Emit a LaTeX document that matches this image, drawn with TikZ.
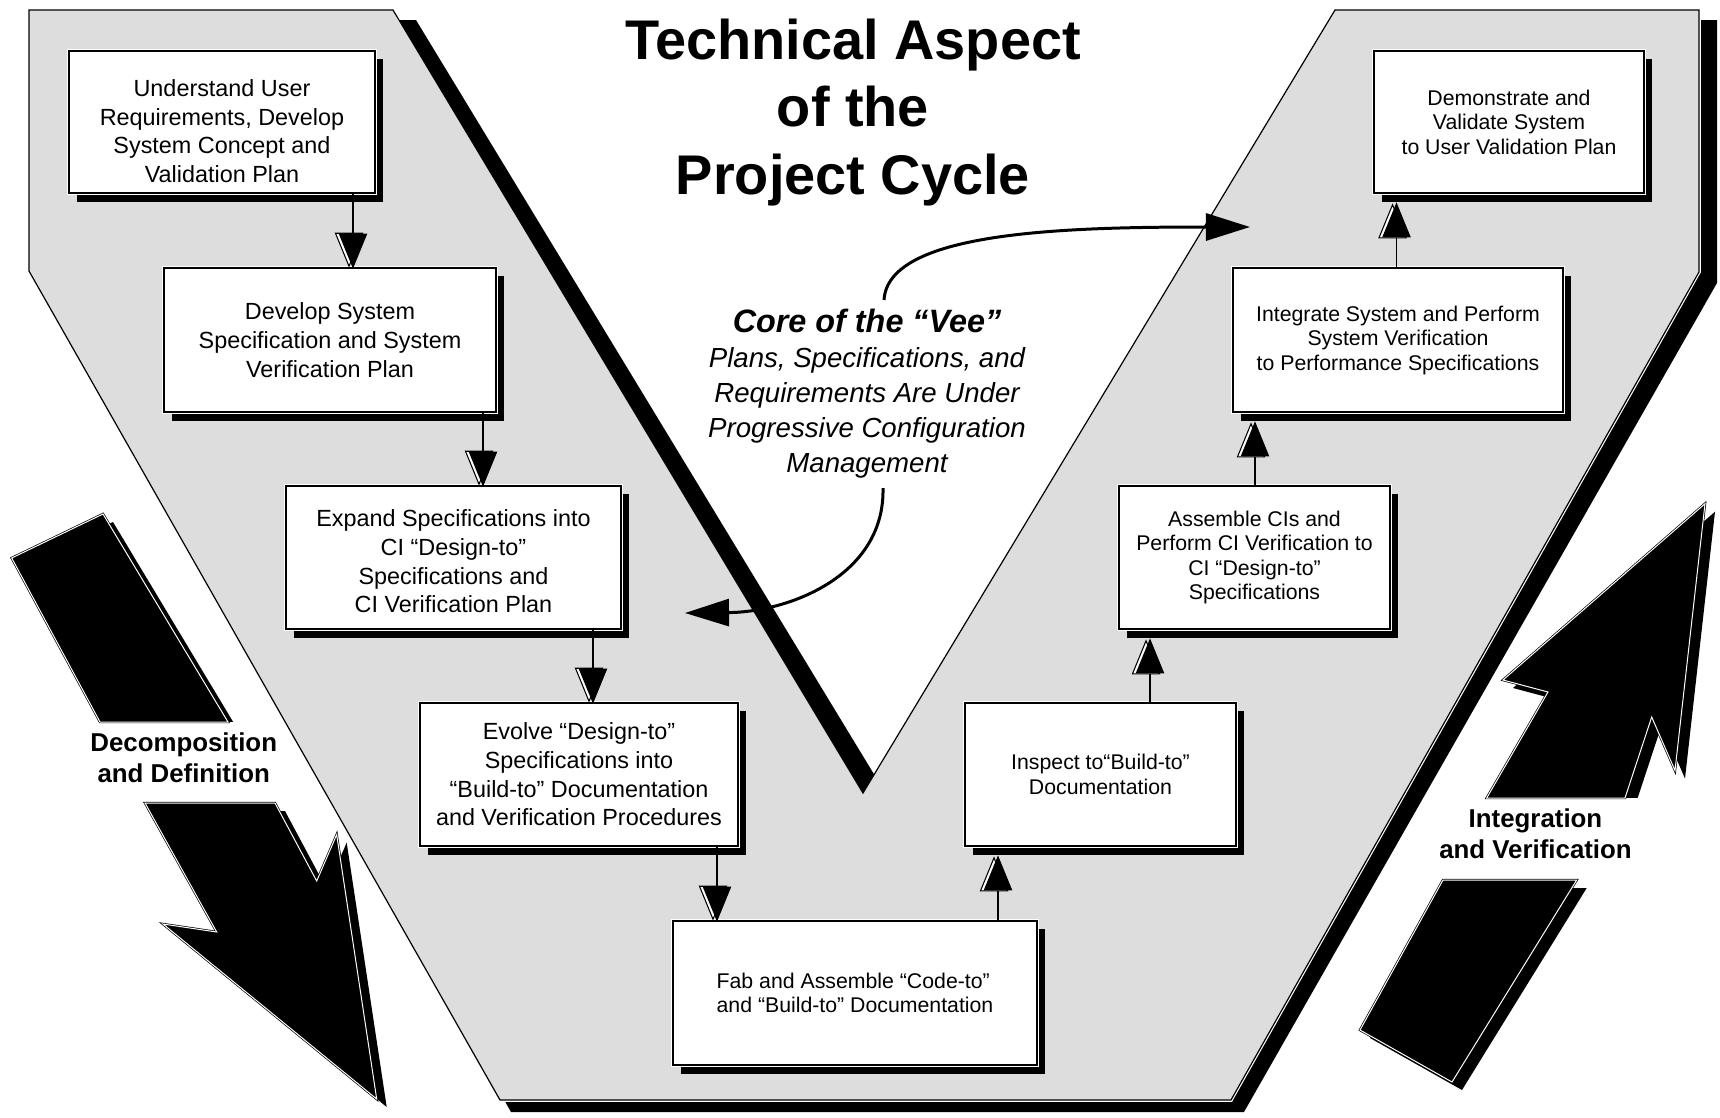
\documentclass[tikz,border=0pt]{standalone}
\usepackage{fontspec}
\setmainfont{Liberation Sans}
\usetikzlibrary{arrows.meta,calc,shadows}

\definecolor{veegray}{RGB}{221,221,221}

\begin{document}
\begin{tikzpicture}[x=0.01cm, y=-0.01cm,
  box/.style={draw=black, fill=white, line width=0.42pt, align=center, inner sep=2pt,
    general shadow={shadow xshift=0.08cm, shadow yshift=-0.085cm, fill=black},
    preaction={draw=white, line width=1pt}},
  lbox/.style={box, font=\fontsize{6.65pt}{8.15pt}\selectfont},
  rbox/.style={box, font=\fontsize{6.05pt}{6.97pt}\selectfont},
  link/.style={draw=black, line width=0.37pt},
  corearrow/.style={draw=black, line width=0.85pt, -{Triangle[length=0.44cm, width=0.27cm]}},
  bigarrow/.style={fill=black, draw=black, double=white, double distance=0.28pt, line width=0.2pt},
  flowlabel/.style={align=center, inner sep=0pt, font=\fontsize{7.35pt}{8.8pt}\selectfont\bfseries},
  downhead/.pic={
    \draw[line width=0.3pt, fill=white] (-17.5,-34) -- (9.5,-34) -- (-4,-1) -- cycle;
    \draw[line width=0.3pt, fill=black] (-13.5,-33) -- (13.5,-33) -- (0,0) -- cycle;
  },
  uphead/.pic={
    \draw[line width=0.3pt, fill=white] (-17.5,34) -- (9.5,34) -- (-4,1) -- cycle;
    \draw[line width=0.3pt, fill=black] (-13.5,33) -- (13.5,33) -- (0,0) -- cycle;
  }
]
\useasboundingbox (0,0) rectangle (1720,1117);

% ---------- broad arrows at the sides: shadows first ----------
\begin{scope}[shift={(10,8)}]
  \fill (11.7,558) -- (103,514) -- (228,722) -- (100,722) -- cycle;
  \fill (145,803) -- (275,803) -- (316.7,881) -- (336.7,834.6) -- (376.7,1099) -- (163,924) -- (216.7,932) -- cycle;
  \fill (1486.7,798) -- (1548,692) -- (1503,680) -- (1705,503.7) -- (1675,770.5) -- (1651.7,717) -- (1625,798) -- cycle;
  \fill (1360,1030) -- (1443,880) -- (1576.7,880) -- (1452,1082) -- cycle;
\end{scope}
% gaps that carry the labels
\fill[white] (0,722) rectangle (345,803);
\fill[white] (1430,798) rectangle (1720,880);
% arrow bodies
\path[bigarrow] (11.7,558) -- (103,514) -- (228,722) -- (100,722) -- cycle;
\path[bigarrow] (145,803) -- (275,803) -- (316.7,881) -- (336.7,834.6) -- (376.7,1099) -- (163,924) -- (216.7,932) -- cycle;
\path[bigarrow] (1486.7,798) -- (1548,692) -- (1503,680) -- (1705,503.7) -- (1675,770.5) -- (1651.7,717) -- (1625,798) -- cycle;
\path[bigarrow] (1360,1030) -- (1443,880) -- (1576.7,880) -- (1452,1082) -- cycle;

% ---------- the Vee ----------
\coordinate (vA) at (29,10);
\coordinate (vB) at (393,10);
\coordinate (vC) at (863,793);
\coordinate (vD) at (1335,10);
\coordinate (vE) at (1699,10);
\coordinate (vF) at (1699,272);
\coordinate (vG) at (1231,1100);
\coordinate (vH) at (500,1100);
\coordinate (vI) at (29,271);
% its shadow
\fill[black] (39,20) -- (416,20) -- (886,794) -- (1353,20) -- (1717,20) -- (1717,283)
  -- (1244,1112) -- (511,1112) -- (39,281) -- cycle;
\draw[white, line width=1pt] (vE) -- (vF) -- (vG) -- (vH);
\draw[fill=veegray, line width=0.34pt, line join=miter]
  (vA) -- (vB) -- (vC) -- (vD) -- (vE) -- (vF) -- (vG) -- (vH) -- (vI) -- cycle;

% ---------- title ----------
\node[align=center, inner sep=0pt, font=\fontsize{15.9pt}{19.1pt}\selectfont\bfseries]
  (title) at (853,112.5) {Technical Aspect\\of the\\Project Cycle};

% ---------- process boxes ----------
\node[lbox, minimum width=3.06cm, minimum height=1.42cm] (b1) at (222,122)
  {\rule{0pt}{0.354cm}Understand User\\Requirements, Develop\\System Concept and\\Validation Plan};
\node[lbox, minimum width=3.32cm, minimum height=1.44cm] (b2) at (330,340)
  {Develop System\\Specification and System\\Verification Plan};
\node[lbox, minimum width=3.35cm, minimum height=1.43cm] (b3) at (453.5,557.5)
  {\rule{0pt}{0.25cm}Expand Specifications into\\CI “Design-to”\\Specifications and\\CI Verification Plan};
\node[lbox, minimum width=3.18cm, minimum height=1.43cm] (b4) at (579,774.5)
  {Evolve “Design-to”\\Specifications into\\“Build-to” Documentation\\and Verification Procedures};
\node[rbox, align=left, minimum width=3.64cm, minimum height=1.44cm] (b5) at (855,993)
  {Fab and Assemble “Code-to”\\and “Build-to” Documentation};
\node[rbox, minimum width=2.71cm, minimum height=1.43cm] (b6) at (1100.5,774.5)
  {Inspect to“Build-to”\\Documentation};
\node[rbox, minimum width=2.71cm, minimum height=1.43cm] (b7) at (1254.5,557.5)
  {Assemble CIs and\\Perform CI Verification to\\CI “Design-to”\\Specifications};
\node[rbox, minimum width=3.30cm, minimum height=1.44cm] (b8) at (1398,340)
  {Integrate System and Perform\\System Verification\\to Performance Specifications};
\node[rbox, minimum width=2.70cm, minimum height=1.42cm] (b9) at (1509,122)
  {Demonstrate and\\Validate System\\to User Validation Plan};

% ---------- connectors ----------
\coordinate (x12) at (353,0);
\coordinate (x23) at (483,0);
\coordinate (x34) at (593,0);
\coordinate (x45) at (717,0);
\coordinate (x56) at (998,0);
\coordinate (x67) at (1150,0);
\coordinate (x78) at (1255,0);
\coordinate (x89) at (1396.5,0);

\draw[link] (b1.south -| x12) -- (b2.north -| x12);
\pic at (b2.north -| x12) {downhead};
\draw[link] (b2.south -| x23) -- (b3.north -| x23);
\pic at (b3.north -| x23) {downhead};
\draw[link] (b3.south -| x34) -- (b4.north -| x34);
\pic at (b4.north -| x34) {downhead};
\draw[link] (b4.south -| x45) -- (b5.north -| x45);
\pic at (b5.north -| x45) {downhead};

\draw[link] (b5.north -| x56) -- ($(b6.south -| x56)+(0,10)$);
\pic at ($(b6.south -| x56)+(0,10)$) {uphead};
\draw[link] (b6.north -| x67) -- ($(b7.south -| x67)+(0,10)$);
\pic at ($(b7.south -| x67)+(0,10)$) {uphead};
\draw[link] (b7.north -| x78) -- ($(b8.south -| x78)+(0,10)$);
\pic at ($(b8.south -| x78)+(0,10)$) {uphead};
\draw[link] (b8.north -| x89) -- ($(b9.south -| x89)+(0,10)$);
\pic at ($(b9.south -| x89)+(0,10)$) {uphead};

% ---------- core of the Vee ----------
\node[align=center, inner sep=0pt, font=\fontsize{7.85pt}{9.96pt}\selectfont\itshape]
  (core) at (867,394)
  {{\fontsize{9.2pt}{9.96pt}\selectfont\bfseries Core of the “Vee”}\\Plans, Specifications, and\\Requirements Are Under\\Progressive Configuration\\Management};
\coordinate (up0) at (884,300);
\coordinate (up1) at (1250,227);
\coordinate (dn0) at (883,488);
\coordinate (dn1) at (685,613);
\draw[corearrow] (up0) .. controls (888,232) and (1060,227) .. (up1);
\draw[corearrow] (dn0) .. controls (885,575) and (790,612) .. (dn1);

% ---------- labels of the broad arrows ----------
\node[flowlabel] (decomp) at (183.7,758) {Decomposition\\and Definition};
\node[flowlabel] (integ) at (1535.5,834) {Integration\\and Verification};
\end{tikzpicture}
\end{document}
